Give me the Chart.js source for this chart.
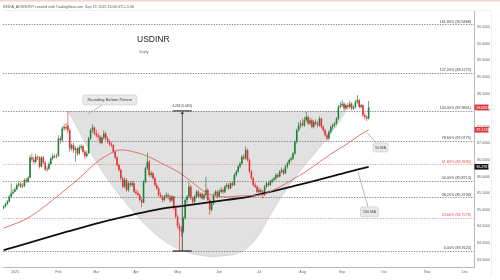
<!DOCTYPE html>
<html>
<head>
<meta charset="utf-8">
<script src="https://cdn.jsdelivr.net/npm/chart.js@4.4.1/dist/chart.umd.min.js"></script>
<style>
  html, body { margin: 0; padding: 0; background: #ffffff; }
  canvas { display: block; }
</style>
</head>
<body>
<canvas id="chart" width="500" height="280"></canvas>
<script>
// USDINR daily candles, trading-day index 0 = 1 Jan 2025 (weekdays only)
const firstSession = -6;

const open = [
  85.05,85.10,85.18,85.25,85.40,85.50,
  85.55,85.62,85.75,85.79,85.70,85.72,85.90,85.85,85.97,86.58,
  86.52,86.44,86.60,86.58,86.30,86.58,86.42,86.22,86.24,86.38,
  86.55,86.62,86.60,86.62,87.15,87.10,87.45,87.50,87.55,87.40,
  86.85,86.95,86.80,86.85,86.70,86.88,86.92,86.75,86.62,86.70,
  87.15,87.40,87.48,87.30,87.25,87.20,87.02,87.18,87.30,87.15,
  87.05,86.98,86.95,86.75,86.58,86.35,86.20,85.95,85.70,85.90,
  85.60,85.80,85.75,85.80,85.55,85.50,85.45,85.30,85.22,85.85,
  86.25,86.45,86.05,86.10,85.95,85.75,85.65,85.45,85.40,85.30,
  85.40,85.45,85.40,85.28,85.40,85.05,84.80,84.52,84.40,84.35,
  84.75,85.30,85.40,85.70,85.35,85.25,85.40,85.55,85.40,85.48,
  85.35,85.45,85.60,85.30,85.00,85.20,85.45,85.55,85.40,85.55,
  85.60,85.55,85.70,85.75,85.65,85.80,85.75,86.05,86.15,86.30,
  86.40,86.60,86.55,86.80,86.50,86.15,85.95,85.75,85.70,85.55,
  85.60,85.55,85.45,85.70,85.80,85.75,85.85,85.90,85.95,86.05,
  86.00,86.15,86.20,86.10,86.30,86.40,86.50,86.55,86.70,87.05,
  87.40,87.55,87.60,87.55,87.70,87.80,87.60,87.70,87.50,87.65,
  87.60,87.55,87.75,87.50,87.40,87.25,87.15,87.35,87.50,87.55,
  87.60,87.75,88.10,88.15,88.20,88.05,88.15,88.10,88.20,88.05,
  88.10,88.25,88.30,88.10,88.15,87.85,87.80,87.75
];
const high = [
  85.14,85.22,85.30,85.45,85.80,85.62,
  85.68,85.80,85.85,85.84,85.80,85.95,85.96,86.02,86.65,86.70,
  86.60,86.68,86.64,86.62,86.62,86.62,86.48,86.32,86.45,86.60,
  86.70,86.68,86.70,87.25,87.22,87.52,87.58,87.62,87.9801,87.45,
  87.00,87.02,86.92,86.90,86.95,86.98,86.96,86.80,86.78,87.20,
  87.45,87.58,87.52,87.42,87.32,87.25,87.22,87.40,87.35,87.22,
  87.12,87.05,86.98,86.80,86.62,86.40,86.25,86.00,85.98,85.95,
  85.85,85.88,85.88,85.85,85.62,85.58,85.50,85.35,85.90,86.30,
  86.72,86.50,86.18,86.15,86.00,85.80,85.70,85.52,85.45,85.45,
  85.52,85.50,85.45,85.45,85.42,85.10,84.85,84.60,84.50,84.80,
  85.35,85.45,85.85,85.75,85.40,85.45,85.60,85.60,85.52,85.52,
  85.50,86.00,85.65,85.35,85.25,85.50,85.60,85.60,85.62,85.68,
  85.65,85.75,85.82,85.80,85.85,85.85,86.10,86.20,86.35,86.45,
  86.65,86.68,86.90,86.85,86.55,86.20,86.00,85.82,85.75,85.68,
  85.65,85.60,85.75,85.85,85.88,85.90,85.95,86.00,86.10,86.10,
  86.20,86.28,86.25,86.35,86.45,86.55,86.60,86.75,87.10,87.45,
  87.65,87.70,87.75,87.80,87.95,87.85,87.78,87.75,87.70,87.72,
  87.68,87.82,87.78,87.55,87.45,87.30,87.40,87.55,87.60,87.65,
  87.80,88.15,88.25,88.30,88.25,88.20,88.22,88.28,88.24,88.15,
  88.32,88.46,88.35,88.20,88.18,87.92,87.85,88.28
];
const low = [
  85.02,85.08,85.14,85.22,85.35,85.45,
  85.52,85.58,85.70,85.66,85.65,85.68,85.80,85.82,85.95,86.45,
  86.38,86.40,86.50,86.25,86.28,86.38,86.18,86.15,86.20,86.35,
  86.50,86.55,86.55,86.60,87.00,87.05,87.38,87.40,87.30,86.75,
  86.78,86.72,86.45,86.62,86.65,86.80,86.70,86.55,86.58,86.68,
  87.10,87.32,87.25,87.18,87.10,86.98,86.98,87.12,87.10,87.00,
  86.92,86.88,86.70,86.52,86.30,86.15,85.90,85.65,85.65,85.55,
  85.55,85.68,85.70,85.50,85.45,85.40,85.25,85.08,85.20,85.80,
  86.20,86.00,85.98,85.90,85.70,85.60,85.40,85.35,85.22,85.25,
  85.35,85.32,85.22,85.24,85.00,84.75,84.45,83.7625,84.20,84.30,
  84.70,85.20,85.35,85.30,85.18,85.20,85.35,85.35,85.35,85.30,
  85.30,85.40,85.25,84.85,84.95,85.15,85.40,85.35,85.38,85.50,
  85.48,85.50,85.65,85.60,85.62,85.70,85.72,86.00,86.10,86.25,
  86.35,86.50,86.52,86.45,86.10,85.90,85.70,85.65,85.50,85.50,
  85.50,85.35,85.42,85.65,85.70,85.72,85.80,85.85,85.90,85.95,
  85.98,86.10,86.05,86.08,86.25,86.35,86.45,86.50,86.65,87.00,
  87.35,87.45,87.50,87.50,87.65,87.55,87.55,87.45,87.45,87.55,
  87.48,87.50,87.45,87.35,87.20,87.05,87.10,87.30,87.42,87.48,
  87.55,87.70,88.05,88.10,87.98,88.00,88.02,88.05,88.00,88.00,
  88.05,88.20,88.05,88.05,87.80,87.72,87.68,87.72
];
const close = [
  85.10,85.18,85.25,85.40,85.50,85.55,
  85.62,85.75,85.79,85.70,85.72,85.90,85.85,85.97,86.58,86.52,
  86.44,86.60,86.58,86.30,86.58,86.42,86.22,86.24,86.38,86.55,
  86.62,86.60,86.62,87.15,87.10,87.45,87.50,87.45,87.40,86.85,
  86.95,86.80,86.85,86.70,86.88,86.92,86.75,86.62,86.70,87.15,
  87.40,87.48,87.30,87.25,87.20,87.02,87.18,87.30,87.15,87.05,
  86.98,86.95,86.75,86.58,86.35,86.20,85.95,85.70,85.90,85.60,
  85.80,85.75,85.80,85.55,85.50,85.45,85.30,85.22,85.85,86.25,
  86.45,86.05,86.10,85.95,85.75,85.65,85.45,85.40,85.30,85.40,
  85.45,85.40,85.28,85.40,85.05,84.80,84.52,84.40,84.35,84.75,
  85.30,85.40,85.70,85.35,85.25,85.40,85.55,85.40,85.48,85.35,
  85.45,85.60,85.30,85.00,85.20,85.45,85.55,85.40,85.55,85.60,
  85.55,85.70,85.75,85.65,85.80,85.75,86.05,86.15,86.30,86.40,
  86.60,86.55,86.80,86.50,86.15,85.95,85.75,85.70,85.55,85.60,
  85.55,85.45,85.70,85.80,85.75,85.85,85.90,85.95,86.05,86.00,
  86.15,86.20,86.10,86.30,86.40,86.50,86.55,86.70,87.05,87.40,
  87.55,87.60,87.55,87.70,87.80,87.60,87.70,87.50,87.65,87.60,
  87.55,87.75,87.50,87.40,87.25,87.15,87.35,87.50,87.55,87.60,
  87.75,88.10,88.15,88.20,88.05,88.15,88.10,88.20,88.05,88.10,
  88.25,88.30,88.10,88.15,87.85,87.80,87.75,88.0883
];

// Month starts on the trading-day axis (future months extend by weekdays)
const monthStarts = [0, 23, 43, 64, 86, 108, 129, 152, 173, 195, 218, 238];
const monthLabels = ['2025', 'Feb', 'Mar', 'Apr', 'May', 'Jun', 'Jul', 'Aug', 'Sep', 'Oct', 'Nov', 'Dec'];
const priceTicks = [83.5, 84, 84.5, 85, 85.5, 86, 86.5, 87, 87.5, 88, 88.5, 89, 89.5, 90, 90.5];

// Moving averages
const ma50Days = [-6, 5, 12, 20, 27, 35, 42, 48, 55, 62, 70, 77, 87, 94, 101, 108, 119, 130, 136, 141, 147, 154, 161, 167, 172, 177, 182, 187];
const ma50 = [84.45, 84.70, 84.95, 85.30, 85.62, 86.00, 86.38, 86.62, 86.80, 86.76, 86.62, 86.42, 86.12, 85.82, 85.52, 85.40, 85.42, 85.45, 85.58, 85.72, 85.92, 86.16, 86.44, 86.68, 86.86, 87.04, 87.24, 87.4126];
const ma200Days = [-6, 10, 28, 45, 62, 77, 89, 112, 124, 150, 177, 187];
const ma200 = [83.79, 84.05, 84.35, 84.62, 84.85, 85.03, 85.12, 85.30, 85.40, 85.75, 86.15, 86.2987];

// Fibonacci retracement / extension of the Feb high to the May low
const fibLevels = ['161.80%', '127.20%', '100.00%', '78.60%', '61.80%', '50.00%', '38.20%', '23.60%', '0.00%'];
const fibPrices = [90.5868, 89.1273, 87.9801, 87.0775, 86.3690, 85.8713, 85.3736, 84.7578, 83.7625];
const fibAccent = [false, false, false, false, true, false, false, true, false];

// Rounding-bottom outline in (trading day, price)
const bowlDays = [28.0, 32.3, 36.5, 41.2, 47.1, 53.9, 60.8, 68.8, 76.7, 84.6, 93.6, 103.1, 111.0, 117.9, 123.2, 128.5, 134.8, 144.4, 154.9, 164.5, 170.8, 175.0];
const bowlPrices = [87.98, 87.55, 87.11, 86.59, 86.08, 85.54, 85.06, 84.55, 84.15, 83.85, 83.67, 83.58, 83.62, 83.67, 83.85, 84.18, 84.84, 85.72, 86.47, 87.11, 87.59, 87.98];

const UP = '#1f8139';
const DOWN = '#e3323a';
const FONT = '"Liberation Sans", Arial, sans-serif';

const wickData = close.map((c, i) => ({ x: firstSession + i, y: [low[i], high[i]] }));
const bodyData = close.map((c, i) => ({ x: firstSession + i, y: [open[i], c] }));
const candleColor = ctx => {
  const i = ctx.dataIndex;
  return close[i] >= open[i] ? UP : DOWN;
};

function smoothPath(ctx, pts) {
  ctx.moveTo(pts[0].x, pts[0].y);
  for (let i = 1; i < pts.length - 1; i++) {
    const mx = (pts[i].x + pts[i + 1].x) / 2;
    const my = (pts[i].y + pts[i + 1].y) / 2;
    ctx.quadraticCurveTo(pts[i].x, pts[i].y, mx, my);
  }
  ctx.lineTo(pts[pts.length - 1].x, pts[pts.length - 1].y);
}

function roundRect(ctx, x, y, w, h, r) {
  ctx.beginPath();
  ctx.moveTo(x + r, y);
  ctx.lineTo(x + w - r, y);
  ctx.quadraticCurveTo(x + w, y, x + w, y + r);
  ctx.lineTo(x + w, y + h - r);
  ctx.quadraticCurveTo(x + w, y + h, x + w - r, y + h);
  ctx.lineTo(x + r, y + h);
  ctx.quadraticCurveTo(x, y + h, x, y + h - r);
  ctx.lineTo(x, y + r);
  ctx.quadraticCurveTo(x, y, x + r, y);
  ctx.closePath();
}

function callout(ctx, xs, ys, text, day, price, tipDay, tipPrice, w, h, fs) {
  const cx = xs.getPixelForValue(day), cy = ys.getPixelForValue(price);
  const tx = xs.getPixelForValue(tipDay), ty = ys.getPixelForValue(tipPrice);
  ctx.strokeStyle = '#9a9a9a';
  ctx.lineWidth = 0.7;
  ctx.setLineDash([]);
  ctx.beginPath();
  ctx.moveTo(tx, ty);
  ctx.lineTo(cx, cy);
  ctx.stroke();
  roundRect(ctx, cx - w / 2, cy - h / 2, w, h, 2);
  ctx.fillStyle = '#e9e9e9';
  ctx.fill();
  ctx.strokeStyle = '#cfcfcf';
  ctx.stroke();
  ctx.fillStyle = '#444';
  ctx.font = fs + 'px ' + FONT;
  ctx.textAlign = 'center';
  ctx.textBaseline = 'middle';
  ctx.fillText(text, cx, cy + 0.3);
}

function axisBox(ctx, ys, area, price, bg) {
  const py = ys.getPixelForValue(price);
  ctx.fillStyle = bg;
  ctx.fillRect(area.right + 0.5, py - 2.8, 14, 5.6);
  ctx.fillStyle = '#ffffff';
  ctx.font = '3.5px ' + FONT;
  ctx.textAlign = 'left';
  ctx.textBaseline = 'middle';
  ctx.fillText(price.toFixed(4), area.right + 2.5, py + 0.2);
}

const overlay = {
  id: 'overlay',
  beforeDatasetsDraw(chart) {
    const { ctx, chartArea: a, scales: { x, y } } = chart;
    ctx.save();
    ctx.beginPath();
    ctx.rect(a.left, a.top, a.width, a.height);
    ctx.clip();

    // rounding-bottom shading
    const pts = bowlDays.map((d, i) => ({ x: x.getPixelForValue(d), y: y.getPixelForValue(bowlPrices[i]) }));
    ctx.beginPath();
    smoothPath(ctx, pts);
    ctx.closePath();
    ctx.fillStyle = '#e1e1e1';
    ctx.fill();
    ctx.beginPath();
    smoothPath(ctx, pts);
    ctx.strokeStyle = '#cdcdcd';
    ctx.lineWidth = 0.7;
    ctx.stroke();

    // Fibonacci levels
    fibPrices.forEach((p, i) => {
      const py = Math.round(y.getPixelForValue(p)) + 0.5;
      ctx.setLineDash([1.3, 1.3]);
      ctx.strokeStyle = fibAccent[i] ? '#e28b8b' : '#6f6f6f';
      ctx.lineWidth = 0.8;
      ctx.beginPath();
      ctx.moveTo(a.left, py);
      ctx.lineTo(a.right, py);
      ctx.stroke();
    });
    ctx.restore();
  },
  afterDatasetsDraw(chart) {
    const { ctx, chartArea: a, scales: { x, y } } = chart;
    ctx.save();

    // Fibonacci labels
    ctx.font = '3.7px ' + FONT;
    ctx.textAlign = 'right';
    ctx.textBaseline = 'bottom';
    fibPrices.forEach((p, i) => {
      const py = y.getPixelForValue(p);
      ctx.fillStyle = fibAccent[i] ? '#d9534f' : '#3c3c3c';
      ctx.fillText(fibLevels[i] + ' (' + p.toFixed(4) + ')', a.right - 3, py - 0.8);
    });

    // price range measure
    const lo = fibPrices[8], hi = fibPrices[2];
    const mx = x.getPixelForValue(88.5);
    const x0 = x.getPixelForValue(83.5), x1 = x.getPixelForValue(93.5);
    const yLo = y.getPixelForValue(lo), yHi = y.getPixelForValue(hi);
    ctx.strokeStyle = '#4a4a4a';
    ctx.lineWidth = 0.9;
    ctx.beginPath();
    ctx.moveTo(mx, yLo);
    ctx.lineTo(mx, yHi + 1);
    ctx.stroke();
    ctx.lineWidth = 1.3;
    ctx.beginPath();
    ctx.moveTo(x0, yLo); ctx.lineTo(x1, yLo);
    ctx.moveTo(x0, yHi); ctx.lineTo(x1, yHi);
    ctx.stroke();
    ctx.fillStyle = '#4a4a4a';
    ctx.beginPath();
    ctx.moveTo(mx, yHi);
    ctx.lineTo(mx - 1.8, yHi + 3);
    ctx.lineTo(mx + 1.8, yHi + 3);
    ctx.closePath();
    ctx.fill();
    const diff = hi - lo;
    ctx.font = '3.2px ' + FONT;
    ctx.textAlign = 'center';
    ctx.textBaseline = 'bottom';
    ctx.fillStyle = '#333';
    ctx.fillText(diff.toFixed(3) + ' (' + (diff / lo * 100).toFixed(2) + '%)', mx, yHi - 3);

    // callouts
    callout(ctx, x, y, 'Rounding Bottom Pattern', 50.2, 88.31, 38.6, 87.89, 54, 10, 4);
    callout(ctx, x, y, '50 MA', 193.3, 86.88, 186.1, 87.33, 15, 9, 3.8);
    callout(ctx, x, y, '200 MA', 187.4, 84.94, 181.4, 86.14, 18, 10, 3.8);

    // symbol title
    ctx.fillStyle = '#222';
    ctx.textAlign = 'left';
    ctx.textBaseline = 'alphabetic';
    ctx.font = '8.5px ' + FONT;
    ctx.fillText('USDINR', 137, 41.5);
    ctx.fillStyle = '#555';
    ctx.font = '4px ' + FONT;
    ctx.fillText('Daily', 139.5, 53);
    ctx.restore();
  },
  afterDraw(chart) {
    const { ctx, chartArea: a, scales: { y } } = chart;
    ctx.save();
    // pane frame
    ctx.strokeStyle = '#ececec';
    ctx.lineWidth = 0.8;
    ctx.beginPath();
    ctx.moveTo(a.left, 10.5);
    ctx.lineTo(491, 10.5);
    ctx.moveTo(491.5, 10.5);
    ctx.lineTo(491.5, 277);
    ctx.stroke();

    axisBox(ctx, y, a, close[close.length - 1], '#e3343a');
    axisBox(ctx, y, a, ma50[ma50.length - 1], '#e3343a');
    axisBox(ctx, y, a, ma200[ma200.length - 1], '#131313');

    // header strip
    ctx.fillStyle = '#f2d4d4';
    ctx.fillRect(0, 0, 500, 1.5);
    ctx.fillStyle = '#555';
    ctx.font = '3.6px ' + FONT;
    ctx.textAlign = 'left';
    ctx.textBaseline = 'middle';
    ctx.fillText('KEDIA_ADVISORY created with TradingView.com, Sep 19, 2025 16:06 UTC+5:30', 3, 6.5);
    ctx.restore();
  }
};

new Chart(document.getElementById('chart'), {
  type: 'bar',
  data: {
    datasets: [
      {
        type: 'line', label: '50 MA', order: 0,
        data: ma50Days.map((d, i) => ({ x: d, y: ma50[i] })),
        borderColor: '#e06262', borderWidth: 0.9, pointRadius: 0, tension: 0.35, fill: false
      },
      {
        type: 'line', label: '200 MA', order: 0,
        data: ma200Days.map((d, i) => ({ x: d, y: ma200[i] })),
        borderColor: '#111111', borderWidth: 1.8, pointRadius: 0, tension: 0.35, fill: false
      },
      {
        label: 'body', order: 1, data: bodyData, grouped: false,
        backgroundColor: candleColor, borderWidth: 0,
        barPercentage: 1, categoryPercentage: 0.85, maxBarThickness: 1.6, minBarLength: 0.7
      },
      {
        label: 'wick', order: 2, data: wickData, grouped: false,
        backgroundColor: candleColor, borderWidth: 0,
        barPercentage: 0.9, categoryPercentage: 0.8, maxBarThickness: 0.65
      }
    ]
  },
  options: {
    responsive: false,
    animation: false,
    devicePixelRatio: 1,
    layout: { padding: { left: 3, top: 11, right: 0, bottom: 0 } },
    plugins: { legend: { display: false }, tooltip: { enabled: false }, title: { display: false } },
    scales: {
      x: {
        type: 'linear', min: -6.3, max: 242.7, offset: false,
        grid: { display: false, offset: false, drawTicks: false },
        border: { display: true, color: '#b8b8b8', width: 1 },
        afterBuildTicks: s => { s.ticks = monthStarts.map(v => ({ value: v })); },
        afterFit: s => { s.height = 13; },
        ticks: {
          autoSkip: false, maxRotation: 0, padding: 2.5, color: '#666',
          font: { size: 3.6, family: FONT },
          callback: v => monthLabels[monthStarts.indexOf(v)]
        }
      },
      y: {
        type: 'linear', position: 'right', min: 83.28, max: 90.99,
        grid: { display: false, drawTicks: false },
        border: { display: true, color: '#b8b8b8', width: 1 },
        afterBuildTicks: s => { s.ticks = priceTicks.map(v => ({ value: v })); },
        afterFit: s => { s.width = 26; },
        ticks: {
          padding: 3, color: '#666', crossAlign: 'near',
          font: { size: 3.6, family: FONT },
          callback: v => Number(v).toFixed(4)
        }
      }
    }
  },
  plugins: [overlay]
});
</script>
</body>
</html>
